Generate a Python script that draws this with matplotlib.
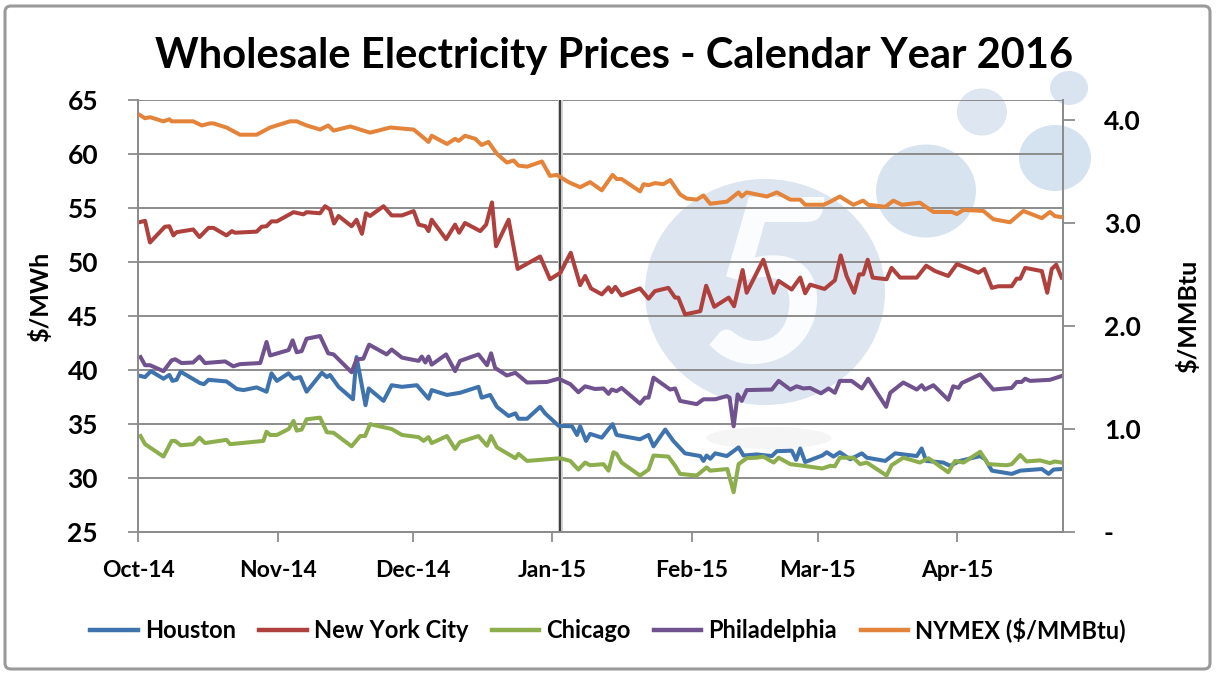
import matplotlib
matplotlib.use('Agg')
import matplotlib.pyplot as plt
import matplotlib.transforms as mtransforms
from matplotlib.patches import Ellipse, FancyBboxPatch
from matplotlib.lines import Line2D
import pandas as pd

plt.rcParams['font.family'] = ['Lato', 'DejaVu Sans']

# ---------------- data ----------------
start_date = pd.Timestamp('2014-10-01')
x_span_days = 205.5
tick_dates = ['2014-10-01', '2014-11-01', '2014-12-01', '2015-01-01',
              '2015-02-01', '2015-03-01', '2015-04-01']
tick_labels = ['Oct-14', 'Nov-14', 'Dec-14', 'Jan-15', 'Feb-15', 'Mar-15', 'Apr-15']
marker_date = '2015-01-02 16:00'
series_names = ['Houston', 'New York City', 'Chicago', 'Philadelphia', 'NYMEX ($/MMBtu)']

houston_days = [0.5, 1.5, 2.8, 5.6, 6.9, 7.6, 8.5, 9.4, 13.7, 14.6, 15.6, 19.6, 21.9, 23.4, 26.3,
                28.5, 29.6, 30.8, 33.4, 34.5, 36.0, 37.4, 40.8, 41.9, 42.6, 44.5, 47.7, 48.5, 50.5,
                51.2, 54.5, 56.3, 58.6, 61.9, 64.5, 65.2, 68.6, 71.5, 75.6, 76.3, 78.2, 79.7, 82.3,
                83.8, 84.5, 86.4, 89.3, 90.4, 93.4, 96.4, 97.5, 98.2, 99.5, 100.4, 103.0, 105.4,
                106.3, 111.5, 113.4, 114.5, 117.1, 118.9, 121.5, 124.9, 125.6, 126.3, 127.1, 128.2,
                130.8, 133.4, 134.5, 137.5, 140.8, 141.9, 145.2, 146.2, 147.1, 148.2, 152.0, 153.0,
                154.5, 155.9, 158.2, 160.8, 161.9, 166.0, 168.2, 173.0, 174.1, 175.1, 178.9, 180.4,
                182.6, 187.1, 188.2, 189.7, 194.1, 196.0, 200.8, 202.3, 203.4, 205.2]
houston_vals = [39.45, 39.35, 39.9, 39.2, 39.55, 39.0, 39.1, 39.85, 38.8, 38.7, 39.1, 38.95, 38.25,
                38.15, 38.4, 38.0, 39.7, 39.0, 39.7, 39.2, 39.35, 38.0, 39.75, 39.35, 39.55, 38.45,
                37.3, 41.2, 36.75, 38.3, 37.15, 38.6, 38.45, 38.6, 37.35, 38.15, 37.7, 37.9, 38.45,
                37.45, 37.7, 36.6, 35.75, 36.0, 35.5, 35.5, 36.6, 36.0, 34.85, 34.8, 34.0, 34.8,
                33.45, 34.1, 33.75, 35.0, 34.0, 33.6, 34.0, 32.95, 34.5, 33.45, 32.3, 32.05, 31.6,
                32.1, 31.8, 32.3, 32.05, 32.85, 32.1, 32.2, 32.05, 32.5, 32.55, 31.7, 32.75, 31.5,
                32.1, 32.4, 32.0, 32.4, 31.75, 32.3, 31.9, 31.6, 32.3, 32.05, 32.75, 31.6, 31.45,
                31.15, 31.6, 32.05, 31.75, 30.7, 30.4, 30.7, 30.85, 30.4, 30.8, 30.85]

nyc_days = [0.5, 1.5, 2.6, 5.9, 6.9, 7.8, 8.5, 12.2, 13.6, 15.6, 16.7, 19.6, 20.8, 21.5, 26.3, 27.4,
            28.5, 29.6, 30.8, 34.5, 36.7, 37.4, 40.4, 41.5, 42.6, 43.5, 44.5, 47.4, 48.5, 49.7,
            50.6, 51.5, 54.5, 56.3, 58.6, 61.2, 62.3, 63.8, 64.5, 65.2, 68.4, 70.4, 71.3, 72.6,
            76.0, 77.3, 78.6, 79.5, 82.3, 84.3, 89.3, 91.5, 93.8, 96.1, 98.2, 99.3, 100.6, 103.0,
            104.5, 105.2, 106.0, 107.4, 111.5, 113.4, 114.8, 117.8, 119.3, 120.0, 121.5, 124.9,
            126.2, 128.0, 131.2, 132.4, 134.3, 135.2, 138.9, 141.2, 142.3, 145.2, 147.1, 148.2,
            149.3, 152.5, 154.8, 156.1, 157.4, 159.1, 160.2, 161.1, 162.1, 163.2, 166.3, 167.4,
            169.3, 173.0, 175.1, 177.1, 180.0, 181.9, 184.1, 186.7, 188.0, 189.7, 191.1, 194.1,
            195.2, 196.0, 197.1, 200.8, 202.0, 203.0, 204.0, 205.2]
nyc_vals = [53.7, 53.8, 51.8, 53.25, 53.3, 52.45, 52.75, 53.0, 52.3, 53.15, 53.15, 52.45, 52.85,
            52.7, 52.8, 53.25, 53.3, 53.75, 53.75, 54.6, 54.4, 54.6, 54.5, 55.15, 54.85, 53.55,
            54.25, 53.3, 53.9, 52.6, 54.5, 54.25, 55.15, 54.3, 54.3, 54.7, 53.45, 53.3, 52.85,
            53.9, 52.1, 53.45, 52.7, 53.6, 52.85, 53.45, 55.5, 51.45, 53.9, 49.35, 50.5, 48.4,
            49.0, 50.85, 47.85, 48.7, 47.55, 47.0, 47.65, 47.2, 47.7, 46.9, 47.55, 46.6, 47.3,
            47.6, 46.7, 46.7, 45.15, 45.45, 47.8, 45.85, 46.7, 45.9, 49.25, 47.15, 50.2, 47.15,
            48.25, 47.45, 48.55, 47.1, 47.9, 47.5, 48.3, 50.6, 48.7, 47.15, 48.85, 48.85, 50.2,
            48.55, 48.4, 49.45, 48.55, 48.55, 49.65, 49.15, 48.7, 49.8, 49.45, 49.0, 49.35, 47.6,
            47.75, 47.75, 48.45, 48.45, 49.45, 49.15, 47.15, 49.35, 49.75, 48.55]

chicago_days = [0.5, 1.5, 5.6, 7.4, 8.2, 9.4, 12.2, 13.6, 14.8, 19.6, 20.4, 27.8, 28.5, 29.3, 30.8,
                33.4, 34.5, 35.2, 36.3, 37.4, 40.4, 41.9, 43.4, 47.4, 49.3, 50.4, 51.5, 56.3, 58.6,
                62.3, 63.4, 64.5, 65.2, 68.6, 70.4, 71.5, 75.6, 77.5, 78.4, 79.7, 83.8, 84.5, 86.4,
                90.8, 93.8, 96.0, 97.8, 99.3, 100.4, 103.4, 104.5, 105.6, 106.3, 107.4, 111.5,
                113.4, 114.5, 117.8, 119.3, 120.4, 124.1, 126.3, 127.1, 130.9, 132.3, 133.4, 135.2,
                137.5, 138.9, 141.2, 142.3, 144.9, 147.8, 152.0, 153.8, 154.8, 155.9, 158.9, 160.4,
                161.9, 166.3, 167.4, 170.0, 173.7, 175.6, 180.0, 181.5, 183.4, 187.1, 188.9, 193.0,
                194.1, 196.0, 197.4, 200.4, 202.6, 203.7, 205.2]
chicago_vals = [33.9, 33.15, 32.0, 33.45, 33.45, 33.05, 33.15, 33.75, 33.25, 33.55, 33.15, 33.45,
                34.3, 34.0, 34.0, 34.55, 35.3, 34.4, 34.5, 35.45, 35.6, 34.25, 34.2, 32.95, 33.9,
                33.9, 35.0, 34.55, 34.0, 33.8, 33.45, 33.8, 33.25, 33.9, 32.7, 33.35, 33.9, 33.0,
                33.9, 32.85, 31.85, 32.25, 31.6, 31.75, 31.85, 31.6, 30.8, 31.45, 31.2, 31.3, 30.7,
                32.4, 32.25, 31.45, 30.25, 30.8, 32.1, 32.0, 31.15, 30.4, 30.25, 31.0, 30.7, 30.85,
                28.7, 31.3, 31.85, 31.9, 32.0, 31.45, 31.9, 31.3, 31.15, 30.9, 31.15, 31.1, 31.9,
                31.9, 31.3, 31.45, 30.25, 31.2, 31.9, 31.45, 31.85, 30.55, 31.6, 31.45, 32.45, 31.3,
                31.2, 31.3, 32.15, 31.55, 31.65, 31.4, 31.55, 31.45]

phila_days = [0.5, 1.5, 2.6, 5.6, 7.4, 8.2, 9.6, 12.2, 13.6, 14.8, 19.3, 21.1, 22.6, 27.1, 28.5,
              29.3, 33.4, 34.3, 35.2, 36.3, 37.4, 40.4, 42.2, 43.4, 47.4, 48.5, 50.0, 51.3, 55.2,
              56.3, 58.6, 62.3, 63.0, 63.8, 64.5, 65.2, 68.4, 70.4, 71.5, 75.6, 77.5, 78.4, 79.3,
              81.9, 83.8, 86.4, 90.8, 93.4, 96.0, 97.8, 99.3, 101.5, 103.4, 104.5, 105.2, 106.3,
              107.4, 111.5, 112.6, 113.4, 114.5, 118.2, 119.3, 120.4, 124.1, 125.6, 128.2, 130.8,
              131.4, 132.3, 133.2, 134.1, 135.2, 140.8, 142.3, 144.9, 146.3, 147.8, 149.3, 151.7,
              153.4, 154.8, 155.9, 158.5, 160.8, 162.2, 163.7, 166.2, 167.1, 170.0, 173.0, 174.1,
              174.8, 176.7, 180.0, 181.1, 182.3, 183.0, 187.1, 190.0, 194.1, 195.2, 196.3, 197.1,
              198.2, 202.6, 205.2]
phila_vals = [41.2, 40.45, 40.45, 39.9, 40.9, 41.0, 40.65, 40.7, 41.25, 40.65, 40.8, 40.35, 40.55,
              40.65, 42.6, 41.35, 41.85, 42.75, 41.65, 41.75, 42.9, 43.15, 41.55, 41.45, 39.8, 41.0,
              41.05, 42.35, 41.45, 41.9, 41.15, 40.85, 41.25, 40.7, 41.25, 40.5, 41.45, 39.9, 40.85,
              41.45, 40.45, 41.55, 40.2, 39.5, 39.75, 38.85, 38.9, 39.2, 38.7, 37.95, 38.5, 38.25,
              38.3, 37.8, 38.2, 38.05, 38.35, 36.9, 37.45, 37.45, 39.3, 38.2, 38.3, 37.15, 36.85,
              37.3, 37.3, 37.6, 37.45, 34.8, 37.75, 37.15, 38.15, 38.2, 39.0, 38.2, 38.5, 38.3,
              38.35, 37.85, 38.3, 37.9, 39.0, 39.0, 38.3, 39.2, 38.2, 36.6, 37.9, 38.85, 38.2, 38.6,
              38.2, 38.6, 37.25, 38.5, 38.35, 38.8, 39.6, 38.2, 38.35, 38.9, 38.9, 39.2, 39.0,
              39.1, 39.45]

nymex_days = [0.4, 1.5, 2.6, 5.6, 6.9, 7.4, 12.2, 14.1, 15.9, 16.7, 19.6, 22.6, 26.3, 29.3, 33.7,
              35.2, 37.4, 40.4, 42.2, 43.4, 47.1, 49.3, 51.5, 56.0, 61.2, 62.6, 64.5, 65.2, 68.6,
              70.4, 71.2, 72.6, 74.9, 76.3, 77.8, 79.7, 81.9, 83.4, 84.5, 86.4, 89.7, 91.5, 93.0,
              95.6, 98.2, 100.4, 103.0, 105.4, 106.3, 107.4, 111.5, 112.3, 113.4, 114.8, 116.7,
              118.2, 120.4, 121.9, 124.1, 125.6, 127.1, 130.8, 133.4, 134.1, 135.2, 139.7, 140.8,
              141.9, 144.9, 147.1, 148.2, 152.3, 153.8, 155.9, 158.9, 161.1, 162.2, 166.0, 167.8,
              169.7, 173.7, 176.7, 180.8, 181.9, 183.4, 187.8, 190.0, 193.7, 196.7, 200.8, 202.6,
              203.7, 205.2]
nymex_vals = [4.05, 4.02, 4.03, 3.99, 4.01, 3.99, 3.99, 3.95, 3.97, 3.97, 3.93, 3.86, 3.86, 3.93,
              3.99, 3.99, 3.95, 3.91, 3.95, 3.90, 3.94, 3.91, 3.88, 3.93, 3.91, 3.86, 3.79, 3.85,
              3.77, 3.82, 3.80, 3.85, 3.82, 3.76, 3.79, 3.675, 3.59, 3.61, 3.56, 3.55, 3.60, 3.46,
              3.47, 3.40, 3.35, 3.40, 3.32, 3.47, 3.43, 3.43, 3.31, 3.38, 3.37, 3.39, 3.38, 3.42,
              3.28, 3.24, 3.23, 3.27, 3.19, 3.21, 3.30, 3.26, 3.30, 3.26, 3.28, 3.30, 3.23, 3.23,
              3.18, 3.18, 3.21, 3.26, 3.18, 3.22, 3.18, 3.16, 3.22, 3.18, 3.20, 3.11, 3.11, 3.09,
              3.13, 3.12, 3.04, 3.01, 3.12, 3.05, 3.11, 3.07, 3.06]

left_ticks = [25, 30, 35, 40, 45, 50, 55, 60, 65]
right_ticks = [0, 1, 2, 3, 4]
right_tick_labels = ['-', '1.0', '2.0', '3.0', '4.0']

# ---------------- styling ----------------
colors = ['#3F73AD', '#AE403D', '#8DAE4C', '#70528F', '#E4843A']
grid_col = '#8C8C8C'
W, H = 1216, 675


def to_dates(days):
    return start_date + pd.to_timedelta(days, unit='D')


fig = plt.figure(figsize=(W / 100, H / 100), dpi=100)
fig.patch.set_facecolor('white')

# outer frame
pix = mtransforms.IdentityTransform()
frame = FancyBboxPatch((5, 6), W - 11, H - 12, boxstyle='round,pad=0,rounding_size=6',
                       transform=pix, facecolor='none', edgecolor='#9A9A9A', lw=2.2, zorder=-5)
fig.patches.append(frame)

# watermark bubbles (image pixel coords: x, y from top)
bubbles = [(765, 292, 240, 226, '#DCE5F0'), (926, 191, 100, 93, '#D8E3F0'),
           (982, 112, 50, 47, '#DDE6F1'), (1055, 158, 72, 66, '#D5E2EF'),
           (1069, 88, 38, 34, '#D9E4F0')]
for bx, by, bw, bh, bc in bubbles:
    fig.patches.append(Ellipse((bx, H - by), bw, bh, transform=pix, facecolor=bc,
                               edgecolor='none', zorder=-4))
fig.patches.append(Ellipse((769, H - 438), 125, 22, transform=pix, facecolor='#F5F5F5',
                           edgecolor='none', zorder=-4))
fig.text(768, H - 296, '5', transform=pix, ha='center', va='center', fontsize=165,
         fontweight='bold', fontstyle='italic', color='white', alpha=0.9, zorder=-3)

left, right, top, bottom = 138.3, 1063, 99.7, 532.3
ax = fig.add_axes([left / W, 1 - bottom / H, (right - left) / W, (bottom - top) / H])
ax.set_facecolor('none')
ax2 = ax.twinx()
ax2.set_facecolor('none')

for days, vals, c, name in [(houston_days, houston_vals, colors[0], series_names[0]),
                            (nyc_days, nyc_vals, colors[1], series_names[1]),
                            (chicago_days, chicago_vals, colors[2], series_names[2]),
                            (phila_days, phila_vals, colors[3], series_names[3])]:
    ax.plot(to_dates(days), vals, color=c, lw=2.9, solid_joinstyle='round', zorder=3)
ax2.plot(to_dates(nymex_days), nymex_vals, color=colors[4], lw=2.9, solid_joinstyle='round',
         zorder=3)

ax.axvline(pd.Timestamp(marker_date), color='#D2D2D2', lw=3.6, zorder=2)
ax.axvline(pd.Timestamp(marker_date), color='#404040', lw=1.5, zorder=2.5)

ax.set_xlim(start_date, start_date + pd.Timedelta(days=x_span_days))
ax.set_ylim(25, 65)
ax2.set_ylim(0, 4.2)

ax.set_yticks(left_ticks)
ax.set_yticklabels([str(t) for t in left_ticks])
ax.grid(axis='y', color=grid_col, lw=1.4, zorder=1)
ax.set_axisbelow(True)

ax.set_xticks(pd.to_datetime(tick_dates))
ax.set_xticklabels(tick_labels)

ax2.set_yticks(right_ticks)
ax2.set_yticklabels(right_tick_labels)

for a in (ax, ax2):
    for s in a.spines.values():
        s.set_color(grid_col)
        s.set_linewidth(1.4)
    a.spines['top'].set_visible(False)

ax.tick_params(axis='y', direction='out', length=7, width=1.3, color=grid_col, pad=22,
               labelsize=19)
ax.tick_params(axis='x', direction='out', length=7, width=1.3, color=grid_col, pad=13,
               labelsize=16.5)
ax2.tick_params(axis='y', direction='out', length=8.5, width=1.3, color=grid_col, pad=21,
                labelsize=19)
for lab in ax.get_yticklabels() + ax2.get_yticklabels() + ax.get_xticklabels():
    lab.set_fontweight('bold')

ax.set_ylabel('\\$/MWh', fontsize=18, fontweight='bold')
ax.yaxis.set_label_coords(-0.093, 0.545)
ax2.set_ylabel('\\$/MMBtu', fontsize=18, fontweight='bold', rotation=90)
ax2.yaxis.set_label_coords(1.122, 0.5)

fig.text(0.505, 1 - 68 / H, 'Wholesale Electricity Prices - Calendar Year 2016', ha='center',
         va='baseline', fontsize=30, fontweight='bold')

handles = [Line2D([], [], color=c, lw=3.2) for c in colors]
leg = fig.legend(handles, series_names, loc='center', bbox_to_anchor=(0.5, 1 - 630 / H),
                 ncol=5, frameon=False, handlelength=2.0, columnspacing=1.0,
                 handletextpad=0.3, prop={'size': 17, 'weight': 'bold'})

fig.savefig('out.png', dpi=100, facecolor='white')
